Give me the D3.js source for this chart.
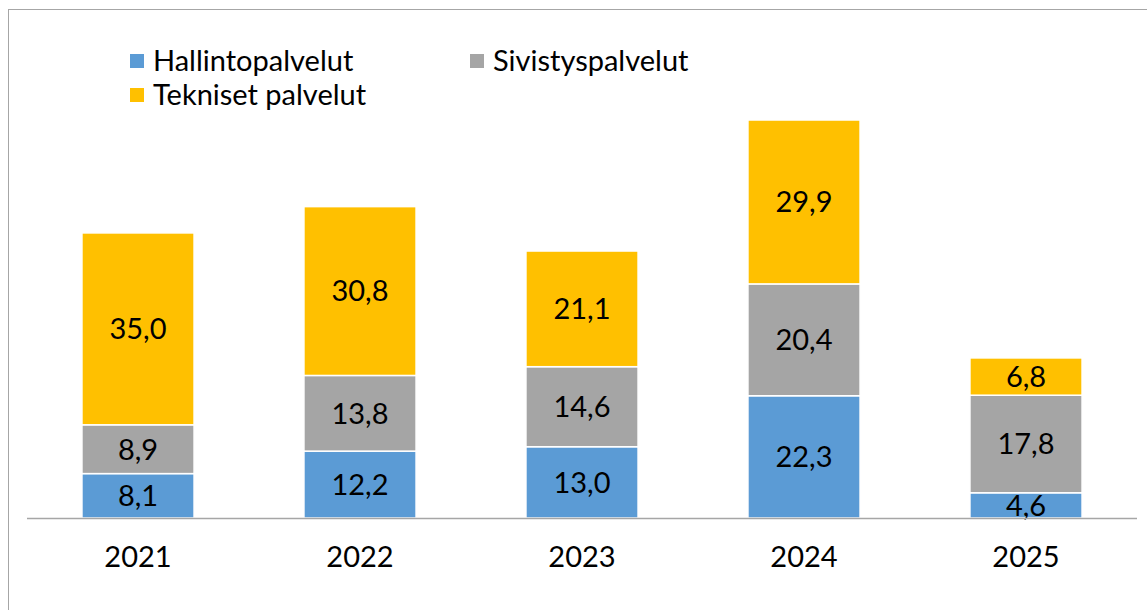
<!DOCTYPE html>
<html><head><meta charset="utf-8">
<script src="https://cdn.jsdelivr.net/npm/d3@7"></script>
<style>body{margin:0;background:#fff;}svg{display:block;font-family:Lato,sans-serif;}</style>
</head><body><svg id="c" width="1147" height="610"></svg>
<script>
const years = ["2021","2022","2023","2024","2025"];
const seriesNames = ["Hallintopalvelut","Sivistyspalvelut","Tekniset palvelut"];
const hallinto = [8.1,12.2,13.0,22.3,4.6];
const sivistys = [8.9,13.8,14.6,20.4,17.8];
const tekniset = [35.0,30.8,21.1,29.9,6.8];
const colors = ["#5B9BD5","#A5A5A5","#FFC000"];

const svg = d3.select("#c");
svg.append("rect").attr("x",8.5).attr("y",9.5).attr("width",1150).attr("height",620)
  .attr("fill","none").attr("stroke","#a6a6a6").attr("stroke-width",1);

const x = d3.scaleBand().domain(years).range([27,1137]).paddingInner(0.495).paddingOuter(0.2475);
const y = d3.scaleLinear().domain([0,80]).range([518,518-80*5.482]);

const rows = years.map((yr,i)=>({year:yr,"Hallintopalvelut":hallinto[i],"Sivistyspalvelut":sivistys[i],"Tekniset palvelut":tekniset[i]}));
const stack = d3.stack().keys(seriesNames)(rows);
const fmt = v => d3.format(".1f")(v).replace(".",",");

stack.forEach((s,si)=>{
  const g = svg.append("g");
  g.selectAll("rect").data(s).join("rect")
    .attr("x",d=>x(d.data.year)).attr("width",x.bandwidth())
    .attr("y",d=>y(d[1])).attr("height",d=>y(d[0])-y(d[1]))
    .attr("fill",colors[si]).attr("stroke","#fff").attr("stroke-width",1.5);
  g.selectAll("text").data(s).join("text")
    .attr("x",d=>x(d.data.year)+x.bandwidth()/2)
    .attr("y",d=>(y(d[0])+y(d[1]))/2)
    .attr("dy","0.36em").attr("text-anchor","middle")
    .attr("font-size",29).attr("fill","#000")
    .text(d=>fmt(d[1]-d[0]));
});

svg.append("line").attr("x1",27).attr("x2",1137).attr("y1",518.5).attr("y2",518.5)
  .attr("stroke","#a6a6a6").attr("stroke-width",1.5);

const xa = svg.append("g").attr("transform","translate(0,518)")
  .call(d3.axisBottom(x).tickSize(0).tickPadding(28));
xa.select(".domain").remove();
xa.selectAll("text").attr("font-size",29).attr("font-family","Lato,sans-serif").attr("fill","#000");

const legPos = [[130,54],[470,54],[130,88]];
seriesNames.forEach((n,i)=>{
  const g = svg.append("g").attr("transform",`translate(${legPos[i][0]},${legPos[i][1]})`);
  g.append("rect").attr("width",14).attr("height",14).attr("fill",colors[i]);
  g.append("text").attr("x",23).attr("y",7).attr("dy","0.36em").attr("font-size",29).attr("fill","#000").text(n);
});
</script></body></html>
